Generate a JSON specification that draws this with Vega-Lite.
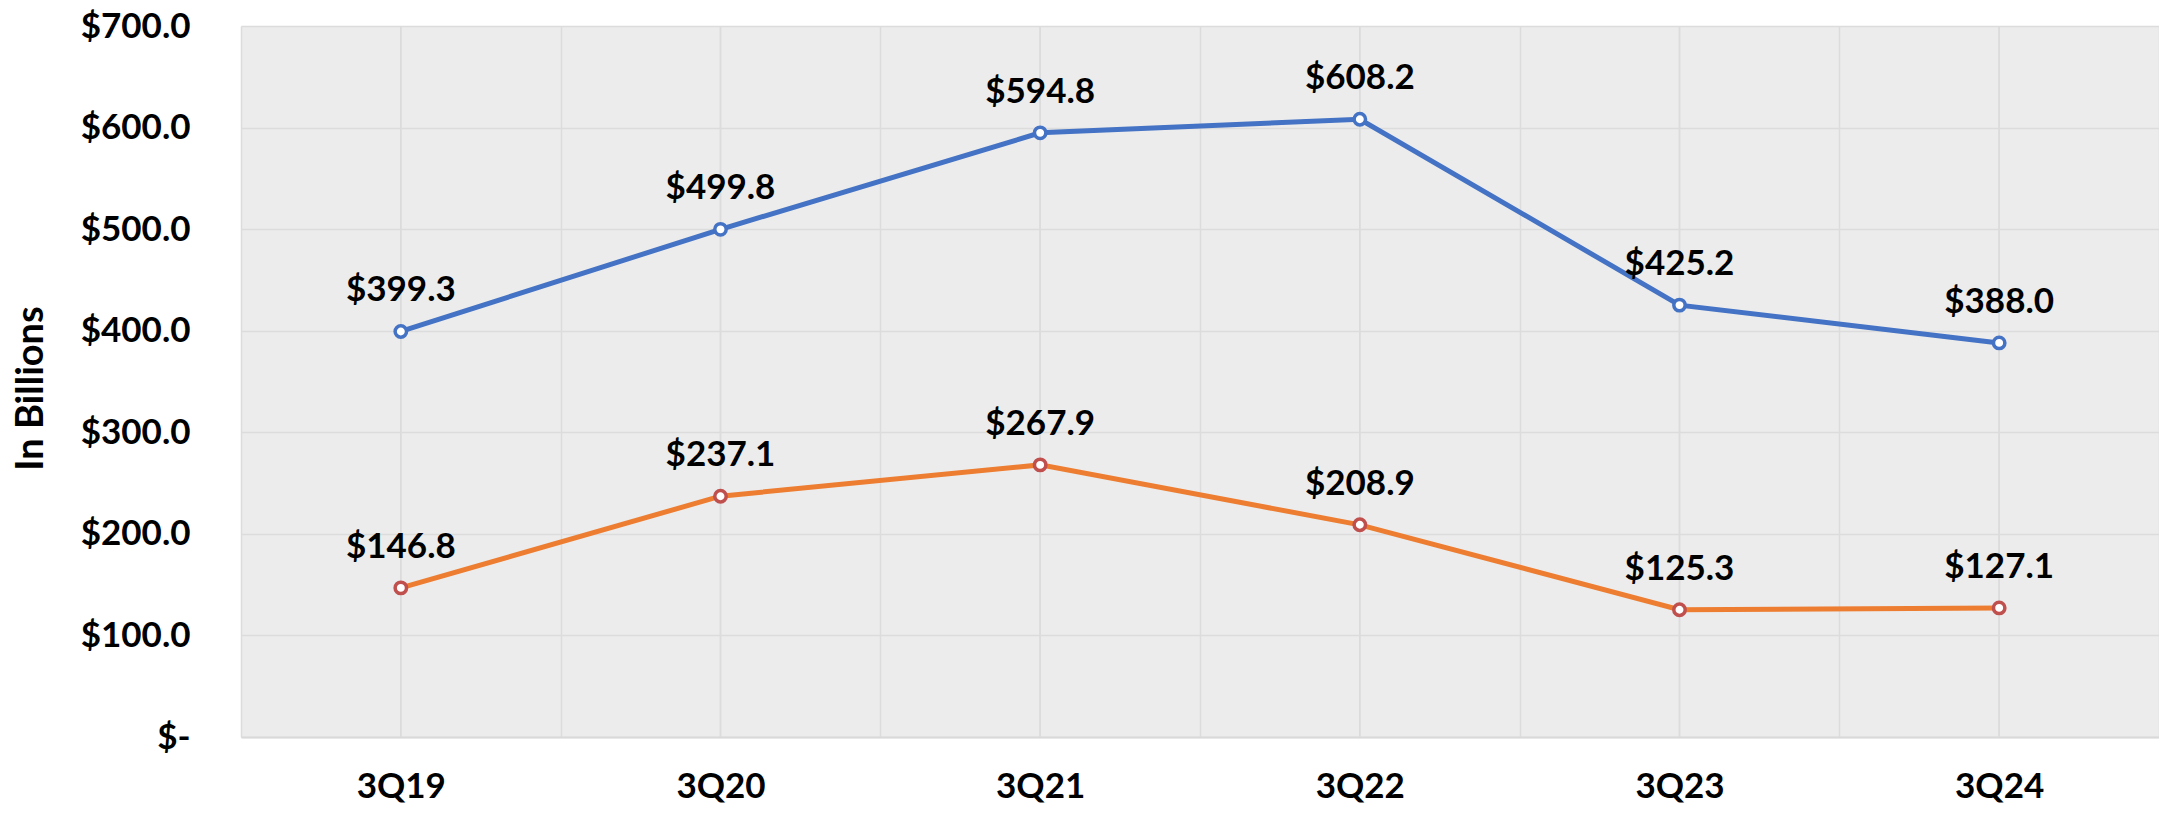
{
  "$schema": "https://vega.github.io/schema/vega-lite/v6.json",
  "width": 1918,
  "height": 711,
  "autosize": {"type": "none"},
  "padding": {"left": 241, "top": 26, "right": 0, "bottom": 77},
  "background": "white",
  "config": {
    "font": "Lato",
    "view": {"fill": "#ececec", "stroke": null}
  },
  "data": {
    "values": [
      {"quarter": "3Q19", "series": "Series 1", "value": 399.3},
      {"quarter": "3Q20", "series": "Series 1", "value": 499.8},
      {"quarter": "3Q21", "series": "Series 1", "value": 594.8},
      {"quarter": "3Q22", "series": "Series 1", "value": 608.2},
      {"quarter": "3Q23", "series": "Series 1", "value": 425.2},
      {"quarter": "3Q24", "series": "Series 1", "value": 388.0},
      {"quarter": "3Q19", "series": "Series 2", "value": 146.8},
      {"quarter": "3Q20", "series": "Series 2", "value": 237.1},
      {"quarter": "3Q21", "series": "Series 2", "value": 267.9},
      {"quarter": "3Q22", "series": "Series 2", "value": 208.9},
      {"quarter": "3Q23", "series": "Series 2", "value": 125.3},
      {"quarter": "3Q24", "series": "Series 2", "value": 127.1}
    ]
  },
  "encoding": {
    "x": {
      "field": "quarter",
      "type": "ordinal",
      "bandPosition": 0.5,
      "scale": {"type": "band", "paddingInner": 0, "paddingOuter": 0},
      "axis": {
        "title": null,
        "tickBand": "extent",
        "grid": true,
        "gridColor": "#dcdcdc",
        "gridWidth": 1.5,
        "ticks": false,
        "domain": true,
        "domainColor": "#d9d9d9",
        "domainWidth": 2,
        "labelAngle": 0,
        "labelFont": "Lato",
        "labelFontSize": 35,
        "labelFontWeight": "bold",
        "labelColor": "#000000",
        "labelPadding": 32,
        "labelBaseline": "top"
      }
    }
  },
  "layer": [
    {
      "mark": {"type": "rule", "color": "#dcdcdc", "strokeWidth": 1.5},
      "encoding": {}
    },
    {
      "mark": {"type": "line", "strokeWidth": 5},
      "encoding": {
        "y": {
          "field": "value",
          "type": "quantitative",
          "scale": {"domain": [0, 700], "nice": false, "zero": true},
          "axis": {
            "values": [0, 100, 200, 300, 400, 500, 600, 700],
            "labelExpr": "datum.value === 0 ? '$-\u00a0\u00a0' : '$' + format(datum.value, '.1f')",
            "grid": true,
            "gridColor": "#dcdcdc",
            "gridWidth": 1.5,
            "ticks": false,
            "domain": false,
            "labelFont": "Lato",
            "labelFontSize": 35,
            "labelFontWeight": "bold",
            "labelColor": "#000000",
            "labelPadding": 51,
            "labelBaseline": "middle",
            "title": "In Billions",
            "titleFont": "Lato",
            "titleFontSize": 38,
            "titleFontWeight": "bold",
            "titleColor": "#000000",
            "titleAngle": 270,
            "titleAlign": "center",
            "titleBaseline": "middle",
            "titleX": -210,
            "titleY": 362
          }
        },
        "color": {
          "field": "series",
          "type": "nominal",
          "scale": {"domain": ["Series 1", "Series 2"], "range": ["#4472C4", "#ED7D31"]},
          "legend": null
        }
      }
    },
    {
      "mark": {"type": "point", "shape": "circle", "filled": false, "fill": "white", "fillOpacity": 1, "strokeWidth": 3.5, "size": 130, "opacity": 1},
      "encoding": {
        "y": {"field": "value", "type": "quantitative"},
        "stroke": {
          "field": "series",
          "type": "nominal",
          "scale": {"domain": ["Series 1", "Series 2"], "range": ["#4472C4", "#C0504D"]},
          "legend": null
        }
      }
    },
    {
      "mark": {"type": "text", "font": "Lato", "fontSize": 35, "fontWeight": "bold", "color": "#000000", "baseline": "alphabetic", "align": "center", "dy": -30},
      "encoding": {
        "y": {"field": "value", "type": "quantitative"},
        "text": {"field": "value", "type": "quantitative", "format": "$.1f"}
      }
    }
  ]
}
